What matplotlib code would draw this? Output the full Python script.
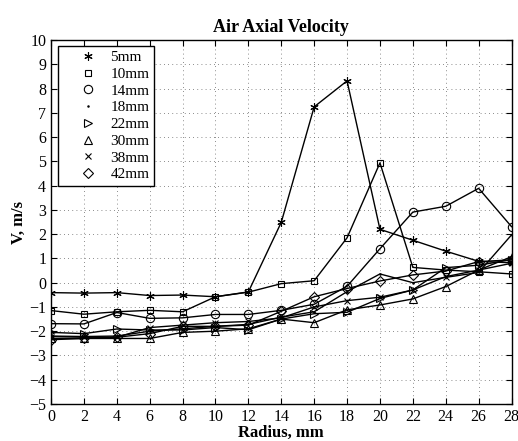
import numpy as np
import matplotlib.pyplot as plt

plt.rcParams['font.family'] = ['Liberation Serif', 'DejaVu Serif']
plt.rcParams['mathtext.fontset'] = 'stix'

# radius positions, mm
radius = [0, 2, 4, 6, 8, 10, 12, 14, 16, 18, 20, 22, 24, 26, 28]

# air axial velocity (m/s) for each axial station
v_5mm = [-0.41, -0.43, -0.41, -0.53, -0.51, -0.58, -0.38, 2.49, 7.25, 8.32, 2.2, 1.75, 1.3, 0.88, 0.82]
v_10mm = [-1.15, -1.3, -1.2, -1.14, -1.2, -0.58, -0.39, -0.04, 0.08, 1.85, 4.94, 0.63, 0.52, 0.45, 0.36]
v_14mm = [-1.69, -1.7, -1.23, -1.47, -1.45, -1.31, -1.31, -1.14, -0.89, -0.15, 1.4, 2.91, 3.15, 3.89, 2.31]
v_18mm = [-2.2, -2.22, -2.2, -2.0, -1.9, -1.8, -1.72, -1.42, -1.2, -0.37, 0.36, 0.0, 0.22, 0.42, 1.97]
v_22mm = [-2.05, -2.1, -1.91, -1.95, -1.95, -1.85, -1.94, -1.5, -1.28, -1.22, -0.65, -0.3, 0.62, 0.72, 0.95]
v_30mm = [-2.3, -2.3, -2.3, -2.3, -2.05, -2.0, -1.9, -1.5, -1.65, -1.12, -0.92, -0.67, -0.16, 0.52, 1.07]
v_38mm = [-2.22, -2.25, -2.25, -1.85, -1.75, -1.65, -1.6, -1.45, -1.0, -0.74, -0.6, -0.3, 0.25, 0.52, 0.8]
v_42mm = [-2.35, -2.3, -2.25, -2.1, -1.8, -1.8, -1.75, -1.18, -0.58, -0.24, 0.07, 0.32, 0.48, 0.87, 0.94]

labels = ['5mm', '10mm', '14mm', '18mm', '22mm', '30mm', '38mm', '42mm']
series = [v_5mm, v_10mm, v_14mm, v_18mm, v_22mm, v_30mm, v_38mm, v_42mm]
markers = [(6, 2, 0), 's', 'o', '.', '>', '^', 'x', 'D']
msizes = [6, 5, 6, 2, 6, 6, 5, 5]

fig = plt.figure(figsize=(5.18, 4.41), dpi=100)
ax = fig.add_axes([0.0985, 0.084, 0.889, 0.825])

handles = []
for v, lab, mk, ms in zip(series, labels, markers, msizes):
    ax.plot(radius, v, '-', color='black', lw=1.0)
    h, = ax.plot(radius, v, linestyle='none', marker=mk, markersize=ms,
                 markerfacecolor='none', markeredgecolor='black', markeredgewidth=0.8,
                 label=lab)
    handles.append(h)

ax.set_xlim(0, 28)
ax.set_ylim(-5, 10)
ax.set_xticks(np.arange(0, 29, 2))
ax.set_yticks(np.arange(-5, 11, 1))
ax.tick_params(direction='in', top=True, right=True, labelsize=11.5, length=4, width=0.8)
ax.grid(True, linestyle=(0, (1, 4)), color='#666666', linewidth=0.6)
for sp in ax.spines.values():
    sp.set_linewidth(1.0)

ax.set_title('Air Axial Velocity', fontsize=13, fontweight='bold', pad=6)
ax.set_xlabel('Radius, mm', fontsize=12, fontweight='bold', labelpad=0)
ax.set_ylabel('V, m/s', fontsize=12, fontweight='bold', labelpad=2)

leg = ax.legend(handles=handles, loc='upper left', bbox_to_anchor=(0.016, 0.984),
                borderaxespad=0, fontsize=11, fancybox=False, framealpha=1,
                edgecolor='black', handlelength=3.3, handletextpad=-0.2,
                labelspacing=0.2, borderpad=0.3)
leg.get_frame().set_linewidth(1.0)

fig.savefig('out.png', dpi=100)
